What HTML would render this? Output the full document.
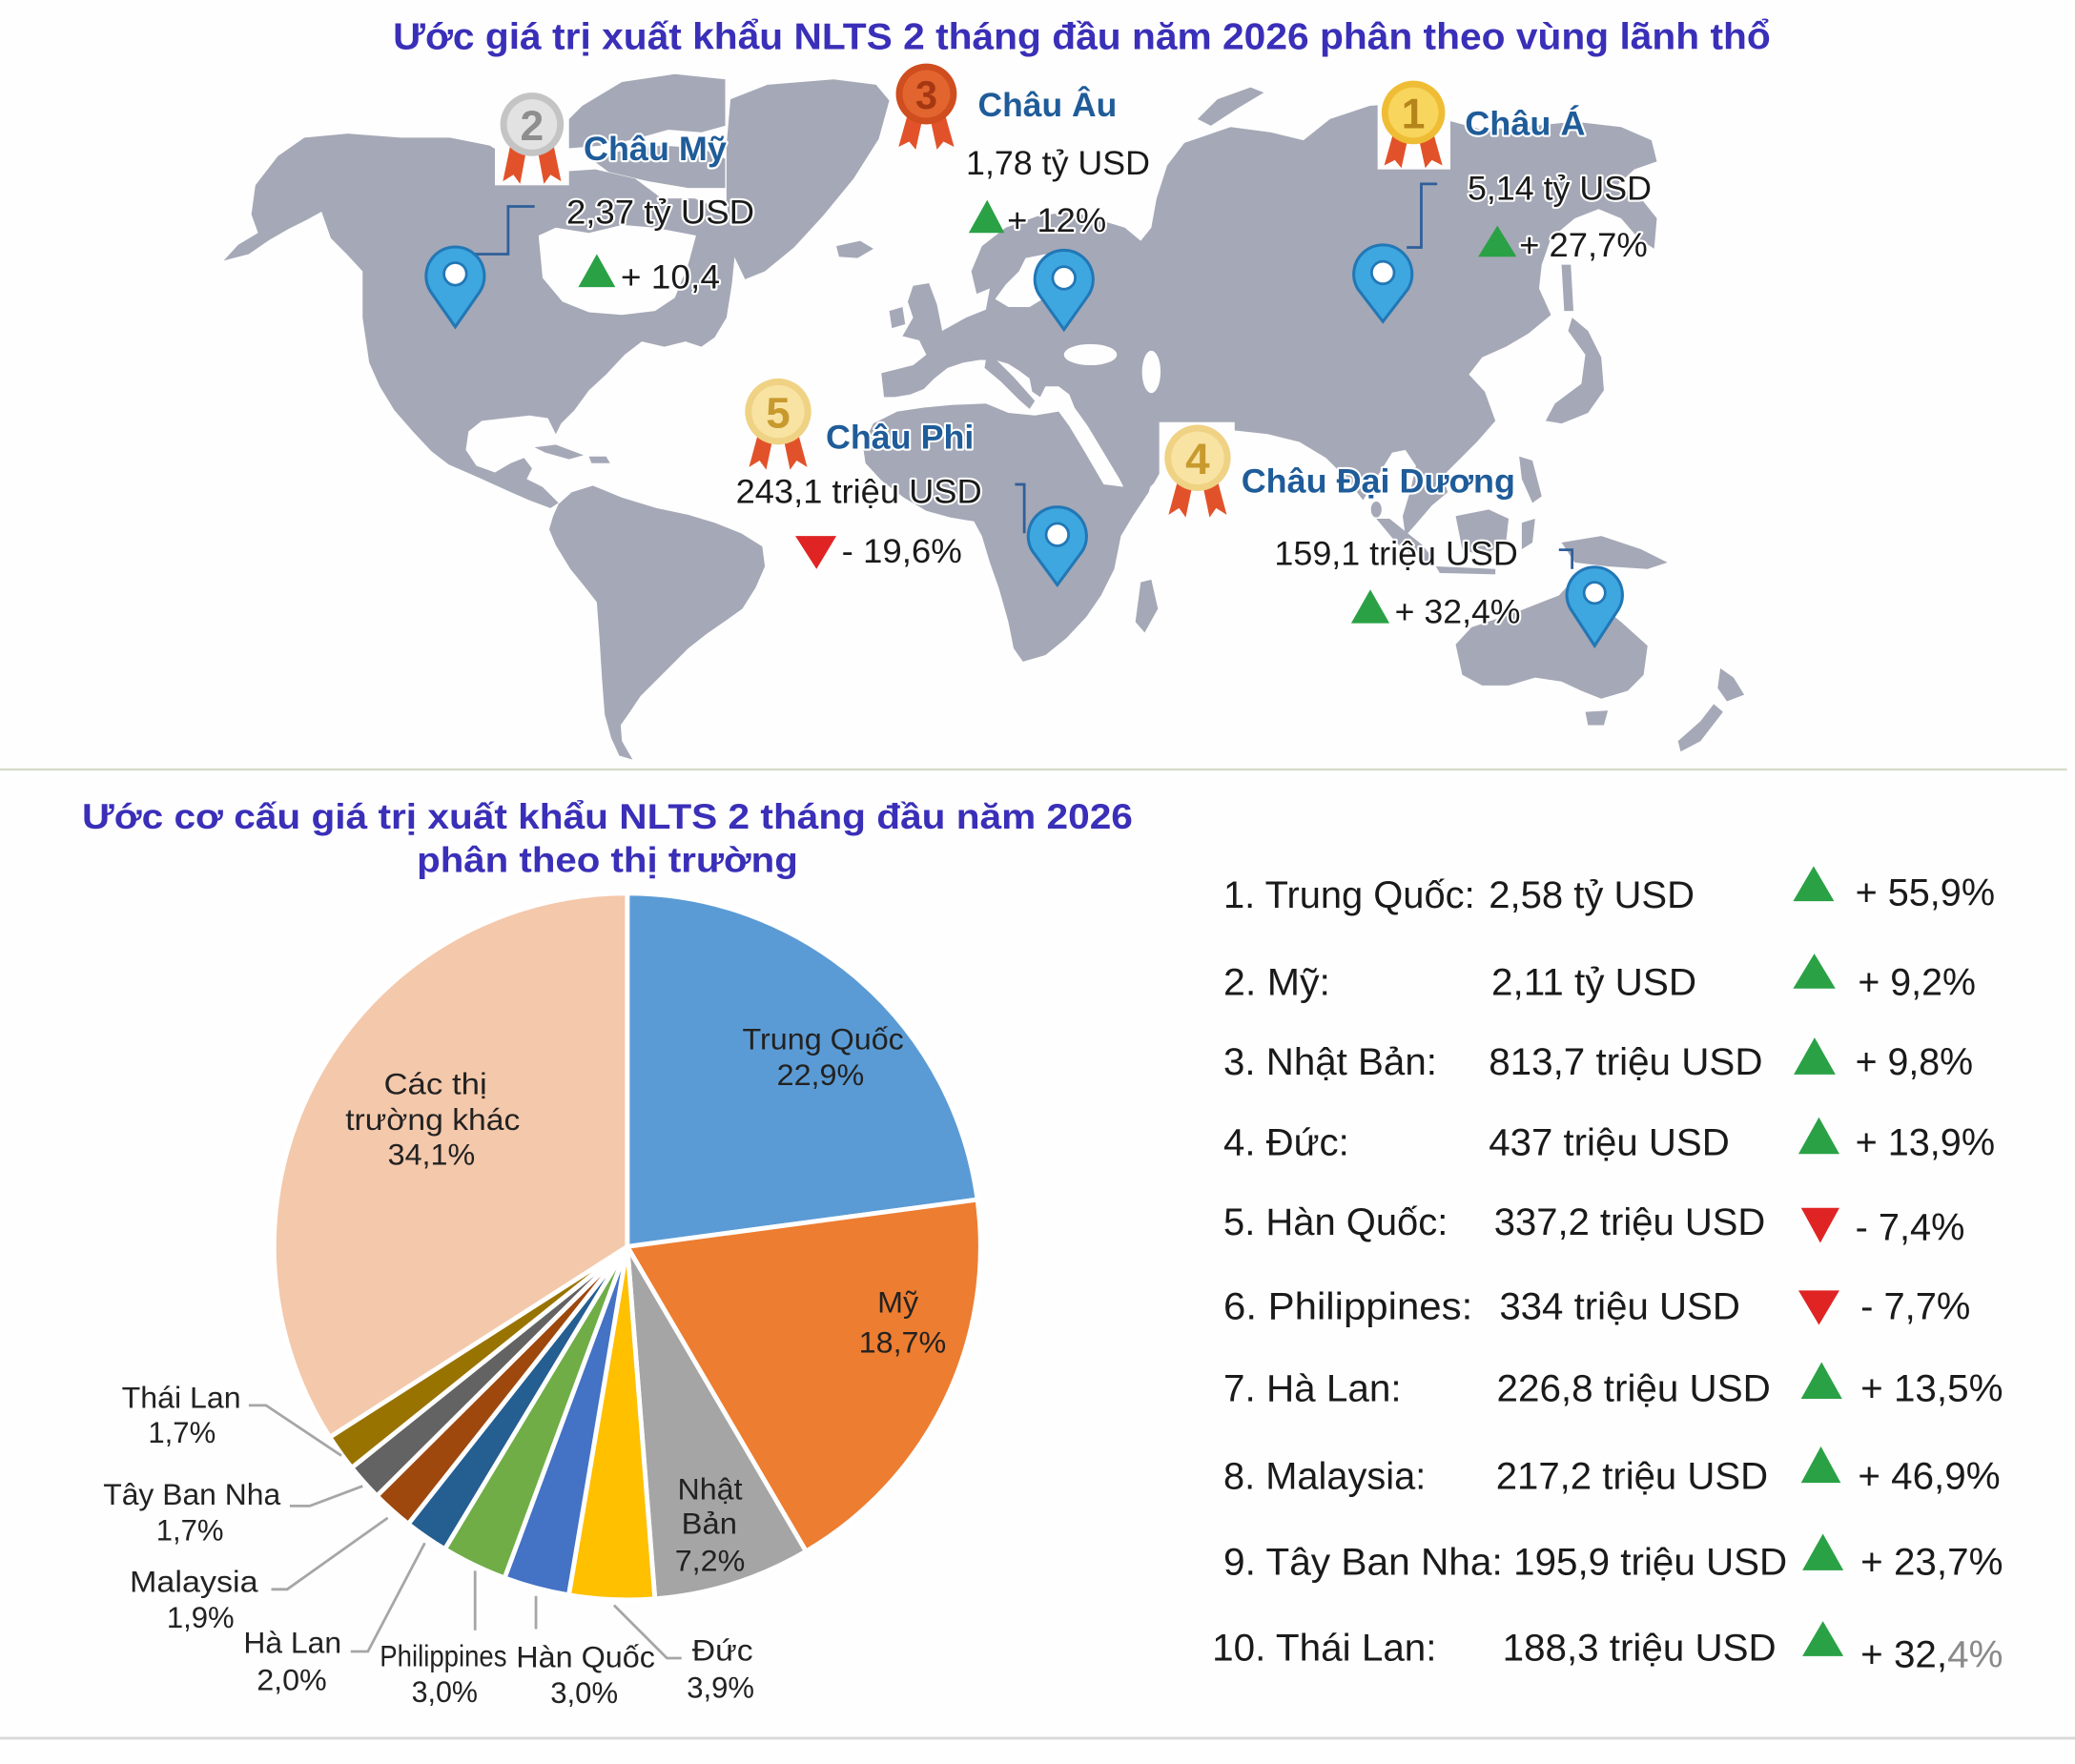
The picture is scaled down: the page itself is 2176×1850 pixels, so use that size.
<!DOCTYPE html>
<html><head><meta charset="utf-8">
<style>
html,body{margin:0;padding:0;background:#fff;width:2176px;height:1850px;overflow:hidden}
svg{display:block}
text{font-family:"Liberation Sans",Arial,sans-serif}
.halo{paint-order:stroke;stroke:#fff;stroke-width:3px;stroke-linejoin:round}
</style></head><body>
<svg xmlns="http://www.w3.org/2000/svg" width="2176" height="1850" viewBox="0 0 1568 1333" preserveAspectRatio="none">
<rect x="0" y="0" width="1568" height="1333" fill="#fefefe"/>

<!-- ============ MAP ============ -->
<g fill="#a5a8b6">
  <!-- North America -->
  <polygon points="169,197 180,185 195,176 190,162 193,140 210,118 230,104 263,101 303,104 340,104 370,110 395,125 420,130 450,128 480,135 500,150 525,150 548,160 556,185 553,215 549,240 540,255 530,262 518,258 502,262 485,258 472,268 458,283 445,295 434,310 424,320 420,328 414,316 400,314 382,316 364,318 354,326 352,340 360,352 374,357 386,350 396,346 402,354 398,362 410,368 422,380 416,384 400,378 384,371 362,361 339,351 326,341 312,326 298,310 287,292 279,274 274,240 274,205 262,192 250,180 243,160 232,166 218,173 204,181 188,192"/>
  <!-- Arctic archipelago -->
  <polygon points="420,100 440,80 470,62 510,56 548,60 548,95 530,100 505,98 480,105 455,110 430,112"/>
  <polygon points="445,119 470,114 500,110 530,112 548,120 548,142 520,142 490,137 460,130"/>
  <!-- Greenland -->
  <polygon points="552,75 580,64 630,60 662,64 672,76 664,105 645,135 622,163 600,187 578,205 563,211 553,190 549,150 549,110"/>
  <!-- Caribbean -->
  <polygon points="404,338 420,336 441,344 430,347 412,342"/>
  <polygon points="445,345 458,345 461,350 447,350"/>
  <!-- South America -->
  <polygon points="422,381 432,372 448,367 470,376 496,384 520,389 540,395 560,403 576,413 578,428 571,444 561,460 547,470 534,479 520,490 507,503 496,514 484,526 476,538 469,548 470,560 478,574 468,571 462,558 457,540 455,514 453,482 451,455 440,441 431,430 420,412 415,400 418,390"/>
  <!-- Iceland, UK, Ireland -->
  <polygon points="632,186 650,182 660,188 648,195 634,194"/>
  <polygon points="690,216 702,214 708,230 712,250 698,258 682,254 690,240 686,228"/>
  <polygon points="672,235 682,232 684,245 674,248"/>
  <!-- Eurasia -->
  <polygon points="668,300 666,282 690,276 700,268 694,256 712,250 730,240 745,234 748,218 738,222 734,205 742,186 760,172 785,163 810,160 830,166 850,172 862,182 870,172 874,150 882,125 895,108 930,96 960,100 985,106 1005,90 1035,80 1060,78 1090,90 1120,98 1150,96 1190,92 1225,96 1248,106 1252,122 1235,128 1222,140 1240,150 1252,165 1250,188 1238,180 1225,165 1208,158 1190,165 1172,180 1165,200 1163,218 1172,238 1155,252 1138,262 1120,270 1110,283 1122,296 1130,318 1116,334 1100,350 1090,360 1094,372 1082,382 1070,396 1062,405 1060,390 1066,370 1070,352 1062,340 1052,342 1042,358 1030,378 1018,362 1002,346 982,334 958,328 930,325 905,322 892,332 884,344 872,365 856,382 846,362 834,342 822,322 812,308 808,298 800,292 790,292 786,300 780,296 778,286 770,280 762,275 752,272 740,272 728,274 716,278 706,286 698,294 688,298 676,300"/>
  <!-- Italy -->
  <polygon points="745,272 752,271 766,285 782,303 778,309 770,302 756,288 744,278"/>
  <!-- Novaya Zemlya -->
  <polygon points="905,90 920,75 945,66 955,70 935,82 915,95"/>
  <!-- Japan, Sakhalin -->
  <polygon points="1188,240 1200,250 1210,270 1212,295 1200,312 1180,320 1168,318 1175,305 1195,290 1198,268 1185,250"/>
  <polygon points="1180,200 1187,200 1189,235 1182,235"/>
  <!-- Philippines -->
  <polygon points="1148,345 1158,348 1165,375 1158,380 1150,362"/>
  <!-- Sri Lanka -->
  <ellipse cx="1040" cy="385" rx="4" ry="6"/>
  <!-- Indonesia -->
  <polygon points="1040,392 1050,392 1075,412 1085,425 1078,428 1055,410"/>
  <polygon points="1085,428 1130,430 1130,434 1088,433"/>
  <polygon points="1100,390 1125,385 1140,392 1138,410 1120,420 1105,415"/>
  <polygon points="1150,395 1160,392 1158,410 1150,415"/>
  <polygon points="1180,410 1210,405 1240,415 1260,425 1245,430 1215,428 1190,425"/>
  <!-- Africa -->
  <polygon points="652,336 660,320 678,311 698,308 720,306 745,305 762,312 782,314 800,311 808,322 820,342 834,366 850,368 872,358 868,372 856,390 847,405 842,430 832,450 821,466 806,482 790,495 773,500 766,490 762,470 755,445 748,425 742,405 736,394 718,391 700,386 683,376 666,363 654,350"/>
  <polygon points="862,440 870,438 875,460 865,478 858,470"/>
  <!-- Australia -->
  <polygon points="1100,487 1112,474 1130,468 1150,461 1165,455 1178,450 1190,437 1200,450 1210,458 1225,470 1245,488 1242,510 1230,522 1210,528 1195,522 1180,515 1160,512 1140,518 1120,518 1105,510"/>
  <polygon points="1198,538 1215,537 1212,548 1200,548"/>
  <!-- New Zealand -->
  <polygon points="1300,505 1310,512 1318,525 1305,530 1298,520"/>
  <polygon points="1295,532 1302,538 1285,560 1270,568 1268,560 1285,545"/>
</g>
<!-- seas cut outs -->
<g fill="#fefefe">
  <polygon points="407,178 420,172 445,176 470,170 495,172 526,178 520,200 510,225 495,235 470,238 445,236 425,228 410,210"/>
  <polygon points="752,226 760,215 770,205 775,195 790,192 798,200 790,212 788,226 778,232 762,232"/>
  <ellipse cx="824" cy="268" rx="20" ry="8"/>
  <ellipse cx="870" cy="281" rx="7" ry="16"/>
  <polygon points="880,325 898,328 892,340 884,336"/>
</g>

<!-- connectors -->
<g fill="none" stroke="#2f5f99" stroke-width="2">
  <polyline points="359,192 384,192 384,156 404,156"/>
  <polyline points="1063,187 1074,187 1074,139 1086,139"/>
  <polyline points="767,366 774,366 774,403"/>
  <polyline points="1178,415.5 1188,415.5 1188,430"/>
</g>

<!-- pins -->
<g stroke="#2277b5" stroke-width="2.2">
  <path d="M344 247 L325.3 220.2 A22 22 0 1 1 362.7 220.2 Z" fill="#3ea7e0"/>
  <circle cx="344" cy="207" r="8.5" fill="#fff" stroke-width="2"/>
  <path d="M804 249 L785.3 222.7 A22 22 0 1 1 822.7 222.7 Z" fill="#3ea7e0"/>
  <circle cx="804" cy="210" r="8.5" fill="#fff" stroke-width="2"/>
  <path d="M1045 243 L1026.3 218.7 A22 22 0 1 1 1063.7 218.7 Z" fill="#3ea7e0"/>
  <circle cx="1045" cy="206" r="8.5" fill="#fff" stroke-width="2"/>
  <path d="M799 442 L780.3 416.7 A22 22 0 1 1 817.7 416.7 Z" fill="#3ea7e0"/>
  <circle cx="799" cy="404" r="8.5" fill="#fff" stroke-width="2"/>
  <path d="M1205 488 L1187.2 460.7 A21 21 0 1 1 1222.8 460.7 Z" fill="#3ea7e0"/>
  <circle cx="1205" cy="448" r="8" fill="#fff" stroke-width="2"/>
</g>

<!-- medals -->
<g>
  <rect x="374" y="70" width="56" height="70" fill="#fefefe"/>
  <polygon points="386,108 398,112 393,139 388,132 380,137" fill="#e2522a"/>
  <polygon points="418,108 406,112 411,139 416,132 424,137" fill="#e2522a"/>
  <circle cx="402" cy="94" r="24" fill="#c4c4c4"/>
  <circle cx="402" cy="94" r="19" fill="#e2e2e2"/>
  <text x="402" y="106" font-size="32" font-weight="bold" fill="#8e8e8e" text-anchor="middle">2</text>
</g>
<g>
  <polygon points="686,86 697,90 692,113 687,107 679,111" fill="#e2522a"/>
  <polygon points="714,86 703,90 708,113 713,107 721,111" fill="#e2522a"/>
  <circle cx="700" cy="71" r="23" fill="#cf4d1e"/>
  <circle cx="700" cy="71" r="18" fill="#e2652f"/>
  <text x="700" y="82" font-size="30" font-weight="bold" fill="#a53812" text-anchor="middle">3</text>
</g>
<g>
  <rect x="1041" y="62" width="55" height="66" fill="#fefefe"/>
  <polygon points="1053,100 1064,104 1059,127 1054,121 1046,125" fill="#e2522a"/>
  <polygon points="1083,100 1072,104 1077,127 1082,121 1090,125" fill="#e2522a"/>
  <circle cx="1068" cy="85" r="24" fill="#efbd35"/>
  <circle cx="1068" cy="85" r="19" fill="#f8d55c"/>
  <text x="1068" y="97" font-size="32" font-weight="bold" fill="#b5851c" text-anchor="middle">1</text>
</g>
<g>
  <polygon points="573,327 584,331 579,355 574,348 566,353" fill="#e2522a"/>
  <polygon points="603,327 592,331 597,355 602,348 610,353" fill="#e2522a"/>
  <circle cx="588" cy="311" r="25" fill="#efd283"/>
  <circle cx="588" cy="311" r="20" fill="#f8e3a3"/>
  <text x="588" y="323" font-size="33" font-weight="bold" fill="#c89a2e" text-anchor="middle">5</text>
</g>
<g>
  <rect x="876" y="319" width="57" height="52" fill="#fefefe"/>
  <polygon points="890,363 901,367 896,391 891,384 883,389" fill="#e2522a"/>
  <polygon points="920,363 909,367 914,391 919,384 927,389" fill="#e2522a"/>
  <circle cx="905" cy="346" r="25" fill="#efd283"/>
  <circle cx="905" cy="346" r="20" fill="#f8e3a3"/>
  <text x="905" y="358" font-size="33" font-weight="bold" fill="#c89a2e" text-anchor="middle">4</text>
</g>

<!-- map triangles -->
<polygon points="437,217 451,192 465,217" fill="#2aa145"/>
<polygon points="732,176 746,151 759,176" fill="#2aa145"/>
<polygon points="1117,194 1131.5,170.5 1146,194" fill="#2aa145"/>
<polygon points="601,405 632,405 617,430" fill="#e02424"/>
<polygon points="1021,471 1035.5,445.5 1050,471" fill="#2aa145"/>

<!-- map texts -->
<g class="halo" font-size="25.5">
  <text x="441" y="121" font-weight="bold" fill="#1f5c99" textLength="108" lengthAdjust="spacingAndGlyphs">Châu Mỹ</text>
  <text x="428" y="169" fill="#1a1a1a" textLength="142" lengthAdjust="spacingAndGlyphs">2,37 tỷ USD</text>
  <text x="469" y="218" fill="#1a1a1a" textLength="75" lengthAdjust="spacingAndGlyphs">+ 10,4</text>
  <text x="739" y="88" font-weight="bold" fill="#1f5c99" textLength="105" lengthAdjust="spacingAndGlyphs">Châu Âu</text>
  <text x="730" y="132" fill="#1a1a1a" textLength="139" lengthAdjust="spacingAndGlyphs">1,78 tỷ USD</text>
  <text x="761" y="175" fill="#1a1a1a" textLength="75" lengthAdjust="spacingAndGlyphs">+ 12%</text>
  <text x="1107" y="102" font-weight="bold" fill="#1f5c99" textLength="91" lengthAdjust="spacingAndGlyphs">Châu Á</text>
  <text x="1109" y="151" fill="#1a1a1a" textLength="139" lengthAdjust="spacingAndGlyphs">5,14 tỷ USD</text>
  <text x="1148" y="194" fill="#1a1a1a" textLength="97" lengthAdjust="spacingAndGlyphs">+ 27,7%</text>
  <text x="624" y="339" font-weight="bold" fill="#1f5c99" textLength="112" lengthAdjust="spacingAndGlyphs">Châu Phi</text>
  <text x="556" y="380" fill="#1a1a1a" textLength="186" lengthAdjust="spacingAndGlyphs">243,1 triệu USD</text>
  <text x="636" y="425" fill="#1a1a1a" textLength="91" lengthAdjust="spacingAndGlyphs">- 19,6%</text>
  <text x="938" y="372" font-weight="bold" fill="#1f5c99" textLength="207" lengthAdjust="spacingAndGlyphs">Châu Đại Dương</text>
  <text x="963" y="427" fill="#1a1a1a" textLength="184" lengthAdjust="spacingAndGlyphs">159,1 triệu USD</text>
  <text x="1054" y="471" fill="#1a1a1a" textLength="95" lengthAdjust="spacingAndGlyphs">+ 32,4%</text>
</g>

<!-- main title -->
<text x="297" y="37" font-size="28" font-weight="bold" fill="#3a2fb8" textLength="1041" lengthAdjust="spacingAndGlyphs">Ước giá trị xuất khẩu NLTS 2 tháng đầu năm 2026 phân theo vùng lãnh thổ</text>

<!-- separators -->
<line x1="0" y1="581.5" x2="1562" y2="581.5" stroke="#d5d9c6" stroke-width="1.6"/>
<line x1="0" y1="1313.5" x2="1568" y2="1313.5" stroke="#d9d9d9" stroke-width="2"/>

<!-- ============ PIE ============ -->
<text x="62" y="626" font-size="27" font-weight="bold" fill="#3a2fb8" textLength="794" lengthAdjust="spacingAndGlyphs">Ước cơ cấu giá trị xuất khẩu NLTS 2 tháng đầu năm 2026</text>
<text x="315" y="659" font-size="27" font-weight="bold" fill="#3a2fb8" textLength="288" lengthAdjust="spacingAndGlyphs">phân theo thị trường</text>

<g stroke="#fff" stroke-width="3.5" stroke-linejoin="round">
  <path d="M474 942 L474 675 A267 267 0 0 1 738.6 906.5 Z" fill="#5b9bd5"/>
  <path d="M474 942 L738.6 906.5 A267 267 0 0 1 609.1 1172.3 Z" fill="#ed7d31"/>
  <path d="M474 942 L609.1 1172.3 A267 267 0 0 1 494.9 1208.2 Z" fill="#a5a5a5"/>
  <path d="M474 942 L494.9 1208.2 A267 267 0 0 1 429.8 1205.3 Z" fill="#ffc000"/>
  <path d="M474 942 L429.8 1205.3 A267 267 0 0 1 381.3 1192.4 Z" fill="#4472c4"/>
  <path d="M474 942 L381.3 1192.4 A267 267 0 0 1 336.1 1170.6 Z" fill="#70ad47"/>
  <path d="M474 942 L336.1 1170.6 A267 267 0 0 1 308.5 1151.6 Z" fill="#255e91"/>
  <path d="M474 942 L308.5 1151.6 A267 267 0 0 1 284.8 1130.4 Z" fill="#9e480e"/>
  <path d="M474 942 L284.8 1130.4 A267 267 0 0 1 265.8 1109.1 Z" fill="#636363"/>
  <path d="M474 942 L265.8 1109.1 A267 267 0 0 1 249.2 1086.0 Z" fill="#997300"/>
  <path d="M474 942 L249.2 1086.0 A267 267 0 0 1 474 675 Z" fill="#f4c8ab"/>
</g>

<!-- leader lines -->
<g fill="none" stroke="#a6a6a6" stroke-width="2">
  <polyline points="188,1062 201,1062 258,1100"/>
  <polyline points="219,1138 234,1138 274,1123"/>
  <polyline points="205,1201 217,1201 293,1147"/>
  <polyline points="265,1248 278,1248 321,1166"/>
  <polyline points="359,1232 359,1187"/>
  <polyline points="405,1231 405,1206"/>
  <polyline points="515,1253 504,1253 464,1213"/>
</g>

<!-- pie labels -->
<g font-size="23" fill="#222">
  <text x="561" y="793" textLength="122" lengthAdjust="spacingAndGlyphs">Trung Quốc</text>
  <text x="587" y="820" textLength="66" lengthAdjust="spacingAndGlyphs">22,9%</text>
  <text x="290" y="827" textLength="78" lengthAdjust="spacingAndGlyphs">Các thị</text>
  <text x="261" y="854" textLength="132" lengthAdjust="spacingAndGlyphs">trường khác</text>
  <text x="293" y="880" textLength="66" lengthAdjust="spacingAndGlyphs">34,1%</text>
  <text x="663" y="992" textLength="31" lengthAdjust="spacingAndGlyphs">Mỹ</text>
  <text x="649" y="1022" textLength="66" lengthAdjust="spacingAndGlyphs">18,7%</text>
  <text x="512" y="1133" textLength="49" lengthAdjust="spacingAndGlyphs">Nhật</text>
  <text x="515" y="1159" textLength="42" lengthAdjust="spacingAndGlyphs">Bản</text>
  <text x="510" y="1187" textLength="53" lengthAdjust="spacingAndGlyphs">7,2%</text>
  <text x="92" y="1064" textLength="90" lengthAdjust="spacingAndGlyphs">Thái Lan</text>
  <text x="112" y="1090" textLength="51" lengthAdjust="spacingAndGlyphs">1,7%</text>
  <text x="78" y="1137" textLength="134" lengthAdjust="spacingAndGlyphs">Tây Ban Nha</text>
  <text x="118" y="1164" textLength="51" lengthAdjust="spacingAndGlyphs">1,7%</text>
  <text x="98" y="1203" textLength="97" lengthAdjust="spacingAndGlyphs">Malaysia</text>
  <text x="126" y="1230" textLength="51" lengthAdjust="spacingAndGlyphs">1,9%</text>
  <text x="184" y="1249" textLength="74" lengthAdjust="spacingAndGlyphs">Hà Lan</text>
  <text x="194" y="1277" textLength="53" lengthAdjust="spacingAndGlyphs">2,0%</text>
  <text x="287" y="1259" textLength="96" lengthAdjust="spacingAndGlyphs">Philippines</text>
  <text x="311" y="1286" textLength="50" lengthAdjust="spacingAndGlyphs">3,0%</text>
  <text x="390" y="1260" textLength="105" lengthAdjust="spacingAndGlyphs">Hàn Quốc</text>
  <text x="416" y="1287" textLength="51" lengthAdjust="spacingAndGlyphs">3,0%</text>
  <text x="523" y="1255" textLength="46" lengthAdjust="spacingAndGlyphs">Đức</text>
  <text x="519" y="1283" textLength="51" lengthAdjust="spacingAndGlyphs">3,9%</text>
</g>

<!-- ============ LIST ============ -->
<g font-size="28.5" fill="#1a1a1a">
  <text x="924.5" y="686" textLength="190" lengthAdjust="spacingAndGlyphs">1. Trung Quốc:</text>
  <text x="1125" y="686" textLength="155.5" lengthAdjust="spacingAndGlyphs">2,58 tỷ USD</text>
  <text x="1402" y="684" textLength="105.5" lengthAdjust="spacingAndGlyphs">+ 55,9%</text>

  <text x="924.5" y="752" textLength="80.7" lengthAdjust="spacingAndGlyphs">2. Mỹ:</text>
  <text x="1127" y="752" textLength="155" lengthAdjust="spacingAndGlyphs">2,11 tỷ USD</text>
  <text x="1404" y="752" textLength="89" lengthAdjust="spacingAndGlyphs">+ 9,2%</text>

  <text x="924.5" y="812" textLength="161.4" lengthAdjust="spacingAndGlyphs">3. Nhật Bản:</text>
  <text x="1125" y="812" textLength="207" lengthAdjust="spacingAndGlyphs">813,7 triệu USD</text>
  <text x="1402" y="812" textLength="89" lengthAdjust="spacingAndGlyphs">+ 9,8%</text>

  <text x="924.5" y="873" textLength="95" lengthAdjust="spacingAndGlyphs">4. Đức:</text>
  <text x="1125" y="873" textLength="182" lengthAdjust="spacingAndGlyphs">437 triệu USD</text>
  <text x="1402" y="873" textLength="105.5" lengthAdjust="spacingAndGlyphs">+ 13,9%</text>

  <text x="924.5" y="933" textLength="169.6" lengthAdjust="spacingAndGlyphs">5. Hàn Quốc:</text>
  <text x="1129" y="933" textLength="205" lengthAdjust="spacingAndGlyphs">337,2 triệu USD</text>
  <text x="1402" y="937" textLength="82.7" lengthAdjust="spacingAndGlyphs">- 7,4%</text>

  <text x="924.5" y="997" textLength="188.3" lengthAdjust="spacingAndGlyphs">6. Philippines:</text>
  <text x="1133" y="997" textLength="182" lengthAdjust="spacingAndGlyphs">334 triệu USD</text>
  <text x="1406" y="997" textLength="83" lengthAdjust="spacingAndGlyphs">- 7,7%</text>

  <text x="924.5" y="1059" textLength="134.5" lengthAdjust="spacingAndGlyphs">7. Hà Lan:</text>
  <text x="1131" y="1059" textLength="207" lengthAdjust="spacingAndGlyphs">226,8 triệu USD</text>
  <text x="1406" y="1059" textLength="107.6" lengthAdjust="spacingAndGlyphs">+ 13,5%</text>

  <text x="924.5" y="1125" textLength="153" lengthAdjust="spacingAndGlyphs">8. Malaysia:</text>
  <text x="1130.4" y="1125" textLength="205.6" lengthAdjust="spacingAndGlyphs">217,2 triệu USD</text>
  <text x="1404" y="1125" textLength="107.5" lengthAdjust="spacingAndGlyphs">+ 46,9%</text>

  <text x="924.5" y="1190" textLength="211" lengthAdjust="spacingAndGlyphs">9. Tây Ban Nha:</text>
  <text x="1143.7" y="1190" textLength="206.8" lengthAdjust="spacingAndGlyphs">195,9 triệu USD</text>
  <text x="1406" y="1190" textLength="107.6" lengthAdjust="spacingAndGlyphs">+ 23,7%</text>

  <text x="916" y="1255" textLength="169.6" lengthAdjust="spacingAndGlyphs">10. Thái Lan:</text>
  <text x="1135.4" y="1255" textLength="206.8" lengthAdjust="spacingAndGlyphs">188,3 triệu USD</text>
  <text x="1406" y="1260" textLength="107.6" lengthAdjust="spacingAndGlyphs">+ 32,<tspan fill="#8a8a8a">4%</tspan></text>
</g>

<!-- list triangles -->
<g fill="#2aa145">
  <polygon points="1355,681 1370.5,654.5 1386,681"/>
  <polygon points="1355,747 1371,720.6 1387,747"/>
  <polygon points="1355.5,812 1371.2,784 1387,812"/>
  <polygon points="1359,872 1374.5,844.3 1390,872"/>
  <polygon points="1361,1057 1376.5,1029.3 1392,1057"/>
  <polygon points="1361,1120.5 1376,1093 1391,1120.5"/>
  <polygon points="1362,1186.6 1377.5,1159 1393,1186.6"/>
  <polygon points="1362,1251.5 1377.5,1225 1393,1251.5"/>
</g>
<g fill="#e02424">
  <polygon points="1361,912.7 1390,912.7 1375.5,939.2"/>
  <polygon points="1359,975.2 1390,975.2 1374.5,1001.2"/>
</g>
</svg>
</body></html>
